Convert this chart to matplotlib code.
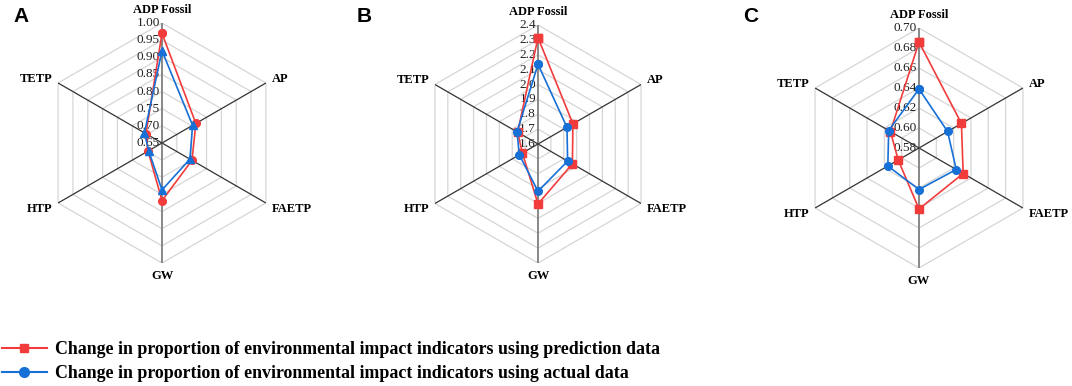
import matplotlib
matplotlib.use("Agg")
import matplotlib.pyplot as plt
from matplotlib.lines import Line2D
import numpy as np

# indicator names, clockwise from top
indicators = ["ADP Fossil", "AP", "FAETP", "GW", "HTP", "TETP"]

# panel A
a_pred = [0.970, 0.764, 0.751, 0.818, 0.697, 0.704]
a_actual = [0.919, 0.753, 0.744, 0.787, 0.695, 0.709]
a_ticks = [0.65, 0.70, 0.75, 0.80, 0.85, 0.90, 0.95, 1.00]
a_labels = ["0.65", "0.70", "0.75", "0.80", "0.85", "0.90", "0.95", "1.00"]

# panel B
b_pred = [2.315, 1.871, 1.867, 2.003, 1.721, 1.758]
b_actual = [2.136, 1.825, 1.830, 1.918, 1.745, 1.763]
b_ticks = [1.6, 1.7, 1.8, 1.9, 2.0, 2.1, 2.2, 2.3, 2.4]
b_labels = ["1.6", "1.7", "1.8", "1.9", "2.0", "2.1", "2.2", "2.3", "2.4"]

# panel C
c_pred = [0.686, 0.629, 0.631, 0.641, 0.604, 0.613]
c_actual = [0.639, 0.613, 0.623, 0.6215, 0.616, 0.615]
c_ticks = [0.58, 0.60, 0.62, 0.64, 0.66, 0.68, 0.70]
c_labels = ["0.58", "0.60", "0.62", "0.64", "0.66", "0.68", "0.70"]

legend_labels = [
    "Change in proportion of environmental impact indicators using prediction data",
    "Change in proportion of environmental impact indicators using actual data",
]

RED = "#f23c3c"
BLUE = "#1670d6"
SERIF = ["Liberation Serif", "DejaVu Serif"]

W, H = 1072, 386


def px_box(cx, cy, r):
    # axes rectangle from a centre and radius given in pixels
    return [(cx - r) / W, (H - cy - r) / H, 2 * r / W, 2 * r / H]


def radar(box, pred, actual, ticks, labels, pred_marker, actual_marker):
    ax = fig.add_axes(box, projection="polar")
    ax.set_theta_zero_location("N")
    ax.set_theta_direction(-1)
    ax.set_ylim(ticks[0], ticks[-1])
    ax.grid(False)
    ax.set_xticks([])
    ax.set_yticks([])
    ax.spines["polar"].set_visible(False)
    ax.patch.set_alpha(0)

    n = len(indicators)
    ang = np.linspace(0, 2 * np.pi, n, endpoint=False)
    ang_c = np.append(ang, ang[0])

    # hexagon rings
    for t in ticks[1:]:
        ax.plot(ang_c, [t] * (n + 1), color="#d6d6d6", lw=0.9, zorder=1)
    # spokes
    for i, a in enumerate(ang):
        if i in (0, 3):
            ax.plot([a, a], [ticks[0], ticks[-1]], color="#7f7f7f", lw=1.3, zorder=2)
        else:
            ax.plot([a, a], [ticks[0], ticks[-1]], color="#333333", lw=0.9, zorder=2)

    ax.plot(ang_c, list(pred) + [pred[0]], color=RED, lw=1.2,
            marker=pred_marker, ms=5.5, zorder=4, clip_on=False)
    ax.plot(ang_c, list(actual) + [actual[0]], color=BLUE, lw=1.2,
            marker=actual_marker, ms=5.5, zorder=5, clip_on=False)

    # radial tick labels along the top spoke
    for t, lab in zip(ticks, labels):
        ax.annotate(lab, xy=(0, t), xytext=(-1.5, 0), textcoords="offset points",
                    ha="right", va="center", fontsize=9.5, family=SERIF,
                    color="#222222", zorder=3)

    # indicator names
    offsets = [((0, 5), "center", "bottom"),
               ((4, 3), "left", "center"),
               ((4, -4), "left", "center"),
               ((0, -5), "center", "top"),
               ((-4, -4), "right", "center"),
               ((-4, 3), "right", "center")]
    rmax = ticks[-1]
    for a, name, (off, ha, va) in zip(ang, indicators, offsets):
        ax.annotate(name, xy=(a, rmax), xytext=off, textcoords="offset points",
                    ha=ha, va=va, fontsize=9, fontweight="bold", family=SERIF,
                    annotation_clip=False)
    return ax


fig = plt.figure(figsize=(W / 100, H / 100), dpi=100)

radar(px_box(162, 143, 120), a_pred, a_actual, a_ticks, a_labels, "o", "^")
radar(px_box(538, 144, 119), b_pred, b_actual, b_ticks, b_labels, "s", "o")
radar(px_box(919, 148, 120), c_pred, c_actual, c_ticks, c_labels, "s", "o")

for letter, x in zip(["A", "B", "C"], [13, 357, 743]):
    fig.text(x / W, 1 - 17 / H, letter, ha="left", va="center", fontsize=15,
             fontweight="bold", family=["Liberation Sans", "DejaVu Sans"])

handles = [Line2D([], [], color=RED, lw=1.5, marker="s", ms=6),
           Line2D([], [], color=BLUE, lw=1.5, marker="o", ms=7)]
fig.legend(handles, legend_labels, loc="upper left",
           bbox_to_anchor=(2 / W, 1 - 341 / H), frameon=False,
           handlelength=2.5, handletextpad=0.45, labelspacing=0.4,
           borderaxespad=0, borderpad=0,
           prop={"family": SERIF, "weight": "bold", "size": 12.9})

fig.savefig("out.png", dpi=100)
